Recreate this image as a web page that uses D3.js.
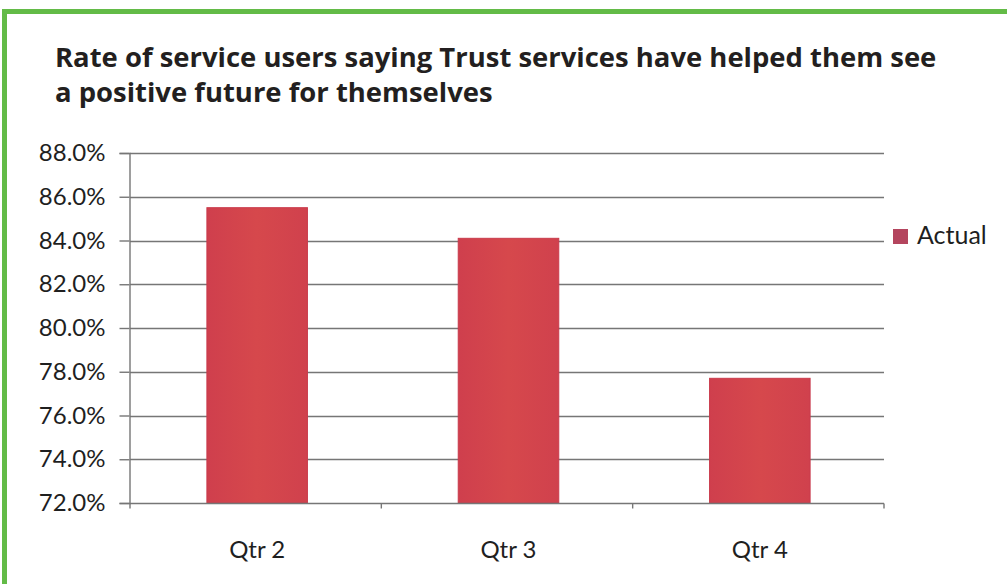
<!DOCTYPE html>
<html>
<head>
<meta charset="utf-8">
<script src="https://cdn.jsdelivr.net/npm/d3@7"></script>
<style>
  html, body { margin: 0; padding: 0; background: #ffffff; }
  svg { display: block; }
</style>
</head>
<body>
<svg id="chart" width="1007" height="584"></svg>
<script>
// Chart data
const categories = ["Qtr 2", "Qtr 3", "Qtr 4"];
const actualValues = [85.5, 84.1, 77.7];
const yTicks = [72, 74, 76, 78, 80, 82, 84, 86, 88];
const seriesName = "Actual";
const titleLines = [
  "Rate of service users saying Trust services have helped them see",
  "a positive future for themselves"
];

const svg = d3.select("#chart");
const W = 1007, H = 584;
const plot = { left: 130, right: 884, top: 153, bottom: 503 };
const labelFont = "Lato, 'Open Sans', sans-serif";

// Green frame around the panel
svg.append("rect")
  .attr("x", 4.5).attr("y", 11.5)
  .attr("width", W + 10).attr("height", H + 10)
  .attr("fill", "#ffffff")
  .attr("stroke", "#63bb47").attr("stroke-width", 5);

// Title, two bold lines; the first line is sized to span the panel width
const title = svg.append("g");
titleLines.forEach((line, i) => {
  title.append("text")
    .attr("x", 55).attr("y", 67 + i * 34.5)
    .attr("font-family", "'Open Sans', 'Noto Sans', sans-serif")
    .attr("font-weight", 700)
    .attr("font-size", 26)
    .attr("fill", "#231f20")
    .text(line);
});
const firstLine = title.select("text").node();
const fitSize = 26 * 882 / firstLine.getComputedTextLength();
title.selectAll("text").attr("font-size", fitSize);

// Scales
const x = d3.scaleBand()
  .domain(categories)
  .range([plot.left, plot.right])
  .paddingInner(0.6)
  .paddingOuter(0.3);

const y = d3.scaleLinear()
  .domain([72, 88])
  .range([plot.bottom, plot.top]);

// Bar fill: soft horizontal red gradient
const defs = svg.append("defs");
const grad = defs.append("linearGradient")
  .attr("id", "barFill")
  .attr("x1", "0%").attr("x2", "100%").attr("y1", "0%").attr("y2", "0%");
grad.append("stop").attr("offset", "0%").attr("stop-color", "#cf3f4d");
grad.append("stop").attr("offset", "50%").attr("stop-color", "#d6484c");
grad.append("stop").attr("offset", "100%").attr("stop-color", "#d0414d");

// Horizontal gridlines
svg.append("g")
  .selectAll("line")
  .data(yTicks.filter(t => t !== 72))
  .join("line")
  .attr("x1", plot.left).attr("x2", plot.right)
  .attr("y1", d => Math.round(y(d)) + 0.5)
  .attr("y2", d => Math.round(y(d)) + 0.5)
  .attr("stroke", "#767676").attr("stroke-width", 1.4);

// Bars
svg.append("g")
  .selectAll("rect")
  .data(actualValues)
  .join("rect")
  .attr("x", (d, i) => x(categories[i]) + 1.5)
  .attr("y", d => y(d))
  .attr("width", x.bandwidth())
  .attr("height", d => y(72) - y(d))
  .attr("fill", "url(#barFill)")
  .attr("stroke", "#c93a4b").attr("stroke-width", 1);

// Y axis
const yAxis = svg.append("g")
  .attr("transform", `translate(${plot.left - 0.5},0)`)
  .call(d3.axisLeft(y)
    .tickValues(yTicks)
    .tickSize(10)
    .tickPadding(14)
    .tickFormat(d => d.toFixed(1) + "%"));
yAxis.select(".domain").attr("stroke", "#767676").attr("stroke-width", 1.4);
yAxis.selectAll(".tick line").attr("stroke", "#767676").attr("stroke-width", 1.4);
yAxis.selectAll(".tick text")
  .attr("font-family", labelFont)
  .attr("font-size", 24)
  .attr("fill", "#1f1f1f");

// X axis with ticks at category boundaries
const xAxisG = svg.append("g")
  .attr("transform", `translate(0,${Math.round(plot.bottom) + 0.5})`);
xAxisG.append("line")
  .attr("x1", plot.left).attr("x2", plot.right)
  .attr("stroke", "#767676").attr("stroke-width", 1.4);
const boundaries = categories.map((c, i) => plot.left + i * x.step());
boundaries.push(plot.right);
xAxisG.selectAll("line.tick")
  .data(boundaries)
  .join("line")
  .attr("class", "tick")
  .attr("x1", d => d).attr("x2", d => d)
  .attr("y1", 0).attr("y2", 5)
  .attr("stroke", "#767676").attr("stroke-width", 1.4);
xAxisG.selectAll("text")
  .data(categories)
  .join("text")
  .attr("x", d => x(d) + x.bandwidth() / 2 + 1.5)
  .attr("y", 54)
  .attr("text-anchor", "middle")
  .attr("font-family", labelFont)
  .attr("font-size", 24)
  .attr("fill", "#1f1f1f")
  .text(d => d);

// Legend
const legend = svg.append("g").attr("transform", "translate(893,229)");
legend.append("rect")
  .attr("width", 15).attr("height", 15)
  .attr("fill", "#b4455e");
legend.append("text")
  .attr("x", 24).attr("y", 14.5)
  .attr("font-family", labelFont)
  .attr("font-size", 25)
  .attr("fill", "#1f1f1f")
  .text(seriesName);
</script>
</body>
</html>
